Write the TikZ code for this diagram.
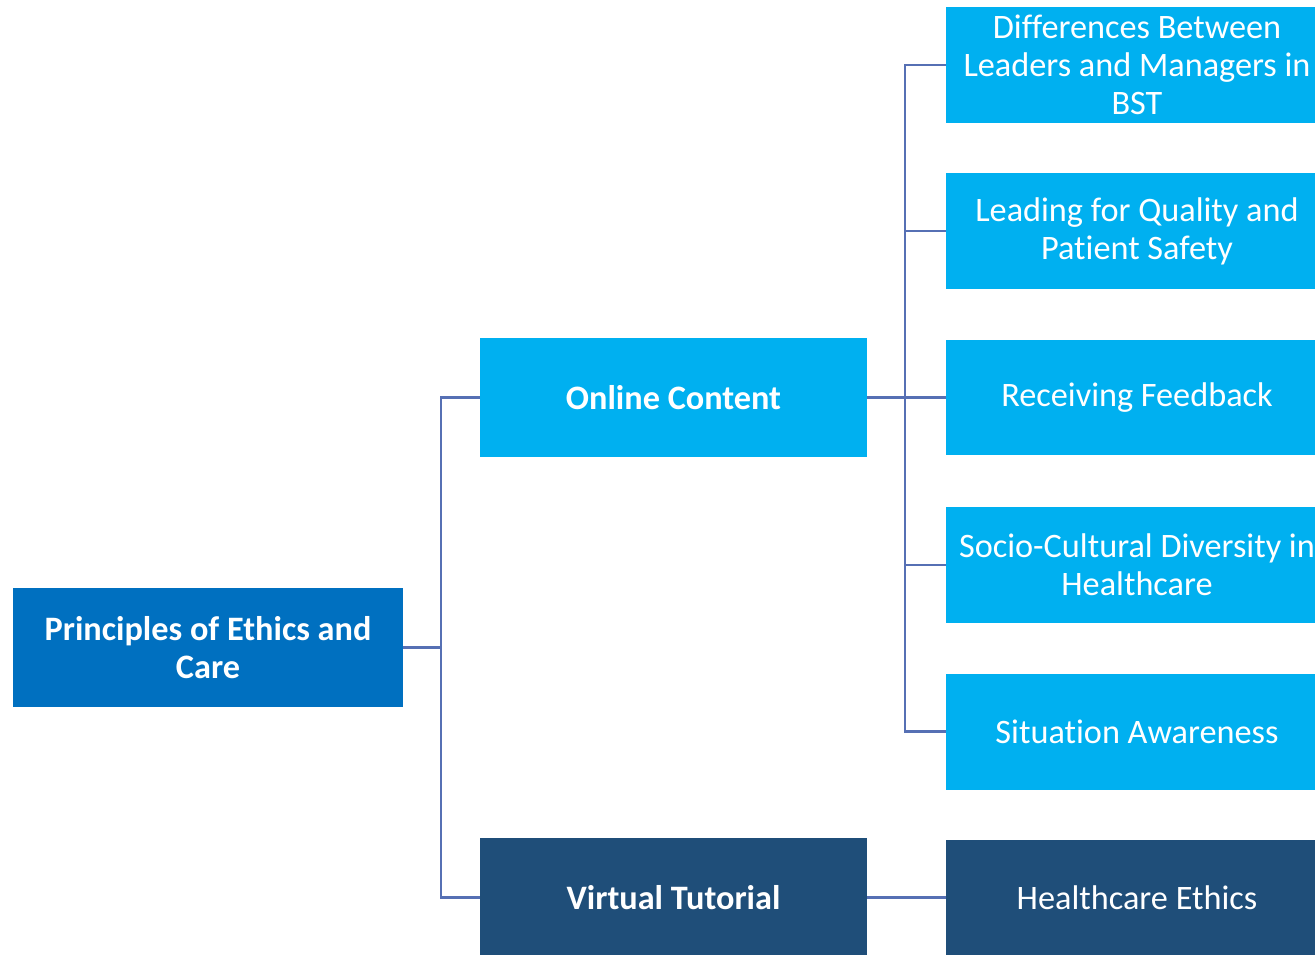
\documentclass[tikz,border=0pt]{standalone}
\usepackage{fontspec}
\setmainfont{Carlito}[Ligatures=NoCommon]
\usetikzlibrary{positioning}
\definecolor{rootblue}{HTML}{0070C0}
\definecolor{lightblue}{HTML}{00B0F0}
\definecolor{darkblue}{HTML}{1F4E79}
\definecolor{linkblue}{HTML}{5670B4}

\begin{document}
\begin{tikzpicture}[x=0.02cm,y=-0.02cm,
    box/.style={rectangle, text=white, align=center, inner sep=0pt,
                font=\fontsize{19.5}{21.6}\selectfont},
    rootbox/.style={box, fill=rootblue, font=\fontsize{19.5}{21.6}\selectfont\bfseries,
                minimum width=7.8cm, minimum height=2.38cm},
    midbox/.style={box, font=\fontsize{19.5}{21.6}\selectfont\bfseries,
                minimum width=7.74cm, minimum height=2.38cm},
    leafbox/.style={box, fill=lightblue,
                minimum width=7.64cm, minimum height=2.32cm},
    link/.style={draw=linkblue, line width=1.4pt}]
                    \useasboundingbox (0,0) rectangle (1315,954);
                    \clip (0,0) rectangle (1315,954);

                    \node[rootbox] (ethics) at (208,647.5) {Principles of Ethics and\\Care};
                    \node[midbox, fill=lightblue] (online) at (673.5,397.5) {Online Content};
                    \node[midbox, fill=darkblue] (virtual) at (673.5,897.5) {Virtual Tutorial};

                    \node[leafbox] (diff) at (1137,65) {Differences Between\\Leaders and Managers in\\BST};
                    \node[leafbox] (quality) at (1137,231) {Leading for Quality and\\Patient Safety};
                    \node[leafbox] (feedback) at (1137,397.5) {Receiving Feedback};
                    \node[leafbox] (diversity) at (1137,565) {Socio-Cultural Diversity in\\Healthcare};
                    \node[leafbox] (situation) at (1137,731.5) {Situation Awareness};
                    \node[leafbox, fill=darkblue] (healthethics) at (1137,897.5) {Healthcare Ethics};

                    % junctions
                    \coordinate (j1) at (441,647.5);
                    \coordinate (j2) at (905,397.5);

                    \draw[link] (ethics) -- (j1);
                    \draw[link] (j1) |- (online);
                    \draw[link] (j1) |- (virtual);
                    \draw[link] (online) -- (j2);
                    \foreach \leaf in {diff,quality,feedback,diversity,situation}
                        \draw[link] (j2) |- (\leaf);
                    \draw[link] (virtual) -- (healthethics);
                \end{tikzpicture}
\end{document}
